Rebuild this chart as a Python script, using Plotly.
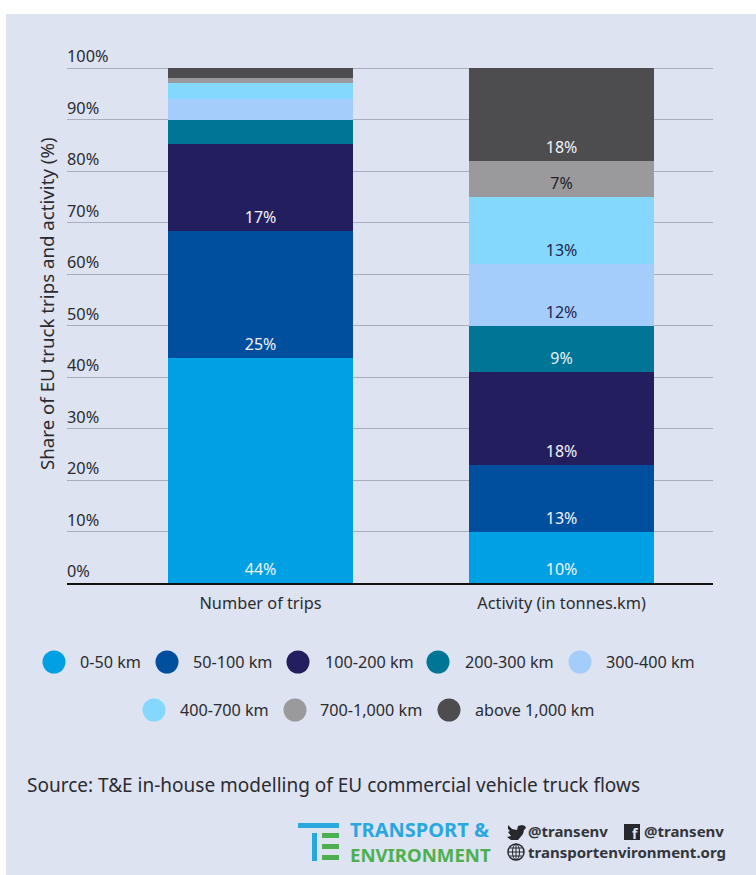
import plotly.graph_objects as go

W, H = 756, 875
categories = ["Number of trips", "Activity (in tonnes.km)"]
bands = ["0-50 km", "50-100 km", "100-200 km", "200-300 km", "300-400 km",
         "400-700 km", "700-1,000 km", "above 1,000 km"]
colors = ["#00a1e4", "#004f9f", "#231f5f", "#007596", "#a5cdfb", "#84d8fe", "#9a9a9c", "#4d4d4f"]
label_colors = ["#f2f4fa", "#f2f4fa", "#f2f4fa", "#e6f4fa", "#1d2550", "#1d2550", "#222226", "#f2f4fa"]
trips = [43.6, 24.7, 16.9, 4.8, 4.0, 3.0, 1.0, 2.0]
activity = [10, 13, 18, 9, 12, 13, 7, 18]
trip_labels = ["44%", "25%", "17%", "", "", "", "", ""]
activity_labels = ["10%", "13%", "18%", "9%", "12%", "13%", "7%", "18%"]
y_ticks = list(range(0, 101, 10))
y_tick_labels = [f"{v}%" for v in y_ticks]

FONT = "Noto Sans"
TXT = "#2b2b30"
BG = "#dde3f1"
L, R, T, B = 67, 713, 66, 583

fig = go.Figure()
for i, band in enumerate(bands):
    fig.add_bar(
        x=categories, y=[trips[i], activity[i]], name=band,
        marker=dict(color=colors[i], line_width=0),
        text=[trip_labels[i], activity_labels[i]],
        textposition="inside", insidetextanchor="start", textangle=0,
        constraintext="none",
        textfont=dict(color=label_colors[i], size=16, family=FONT),
        showlegend=False,
    )


def px(x):
    return (x - L) / (R - L)


def py(y):
    return (B - y) / (B - T)


shapes = [dict(type="rect", xref="paper", yref="paper", x0=px(6), x1=px(756), y0=py(14), y1=py(875),
               fillcolor=BG, line_width=0, layer="below")]
annots = []

# axis title
annots.append(dict(xref="paper", yref="paper", x=px(46), y=py(304),
                   text="Share of EU truck trips and activity (%)", textangle=-90, showarrow=False,
                   xanchor="center", yanchor="middle", font=dict(size=18.7, color=TXT, family=FONT)))

# legend rows: circle centre x, text start x, row y
legend_pos = [(54, 78, 662), (167, 191, 662), (298, 323, 662), (438, 463, 662), (580, 604, 662),
              (154, 178, 710), (295, 318, 710), (449, 473, 710)]
for (cx, tx, cy), band, col in zip(legend_pos, bands, colors):
    shapes.append(dict(type="circle", xref="paper", yref="paper", x0=px(cx - 11.5), x1=px(cx + 11.5),
                       y0=py(cy + 11.5), y1=py(cy - 11.5), fillcolor=col, line_width=0))
    annots.append(dict(xref="paper", yref="paper", x=px(tx), y=py(cy), text=band, showarrow=False,
                       xanchor="left", yanchor="middle", font=dict(size=16.2, color=TXT, family=FONT)))

# source
annots.append(dict(xref="paper", yref="paper", x=px(25), y=py(785),
                   text="Source: T&amp;E in-house modelling of EU commercial vehicle truck flows",
                   showarrow=False, xanchor="left", yanchor="middle",
                   font=dict(size=19, color=TXT, family=FONT)))

# logo mark
BLUE, GREEN = "#2aa7df", "#4db04f"


def bar(x0, x1, y0, y1, col):
    return dict(type="rect", xref="paper", yref="paper", x0=px(x0), x1=px(x1), y0=py(y1), y1=py(y0),
                fillcolor=col, line_width=0)


shapes += [bar(298, 339, 823, 828, BLUE), bar(312, 317, 833, 861, BLUE),
           bar(322, 339, 833, 838, GREEN), bar(322, 339, 844, 849, GREEN), bar(322, 339, 855, 860, GREEN)]
LOGO = "Liberation Sans Narrow, " + FONT
annots.append(dict(xref="paper", yref="paper", x=px(348), y=py(829), text="<b>TRANSPORT &amp;</b>", showarrow=False,
                   xanchor="left", yanchor="middle", font=dict(size=20, color=BLUE, family=LOGO)))
annots.append(dict(xref="paper", yref="paper", x=px(348), y=py(854), text="<b>ENVIRONMENT</b>", showarrow=False,
                   xanchor="left", yanchor="middle", font=dict(size=18.6, color=GREEN, family=LOGO)))
for x, y, t in [(526, 831, "<b>@transenv</b>"), (642, 831, "<b>@transenv</b>"), (526, 852, "<b>transportenvironment.org</b>")]:
    annots.append(dict(xref="paper", yref="paper", x=px(x), y=py(y), text=t, showarrow=False,
                       xanchor="left", yanchor="middle", font=dict(size=15, color="#33363b", family=FONT)))

# icons
ICON = "#26282c"
tw = [(508, 825), (512, 829), (517, 830), (518, 826), (522, 825), (525, 826), (526, 828), (524, 830), (523, 834),
      (518, 840), (511, 840), (507, 837), (511, 836), (508, 832), (510, 831), (508, 829)]
pts = " L".join(f"{px(x)},{py(y)}" for x, y in tw)
shapes.append(dict(type="path", xref="paper", yref="paper", path="M" + pts + " Z", fillcolor=ICON, line_width=0))
shapes.append(bar(624, 640, 824, 840, ICON))
annots.append(dict(xref="paper", yref="paper", x=px(635), y=py(833), text="<b>f</b>", showarrow=False,
                   xanchor="center", yanchor="middle", font=dict(size=14, color=BG, family=FONT)))
shapes.append(dict(type="circle", xref="paper", yref="paper", x0=px(508), x1=px(524), y0=py(860), y1=py(844),
                   line=dict(color=ICON, width=1.5)))
shapes.append(dict(type="circle", xref="paper", yref="paper", x0=px(512.5), x1=px(519.5), y0=py(860), y1=py(844),
                   line=dict(color=ICON, width=1)))
for a, b, c, d in [(508, 852, 524, 852), (510, 848, 522, 848), (510, 856, 522, 856), (516, 844, 516, 860)]:
    shapes.append(dict(type="line", xref="paper", yref="paper", x0=px(a), x1=px(c), y0=py(b), y1=py(d),
                       line=dict(color=ICON, width=1)))

fig.update_layout(
    width=W, height=H, autosize=False, barmode="stack", bargap=0.385,
    paper_bgcolor="#ffffff", plot_bgcolor="rgba(0,0,0,0)",
    margin=dict(l=L, r=W - R, t=T, b=H - B),
    font=dict(family=FONT, color=TXT, size=15),
    shapes=shapes, annotations=annots,
    xaxis=dict(range=[-0.643, 1.503], showgrid=False, showline=True, linecolor="#111111", linewidth=2, ticks="",
               tickfont=dict(size=16.3, color=TXT), ticklabelstandoff=4, zeroline=False, layer="above traces"),
    yaxis=dict(range=[0, 100.39], tickvals=y_ticks, ticktext=y_tick_labels, showgrid=True,
               gridcolor="#a9aebf", gridwidth=1.3, zeroline=False, showline=False,
               ticklabelposition="inside top", ticklabeloverflow="allow", ticklabelstandoff=-3,
               tickfont=dict(size=16.3, color=TXT)),
)
fig.write_html("out.html", post_script="document.body.style.margin='0';", config=dict(displayModeBar=False))
